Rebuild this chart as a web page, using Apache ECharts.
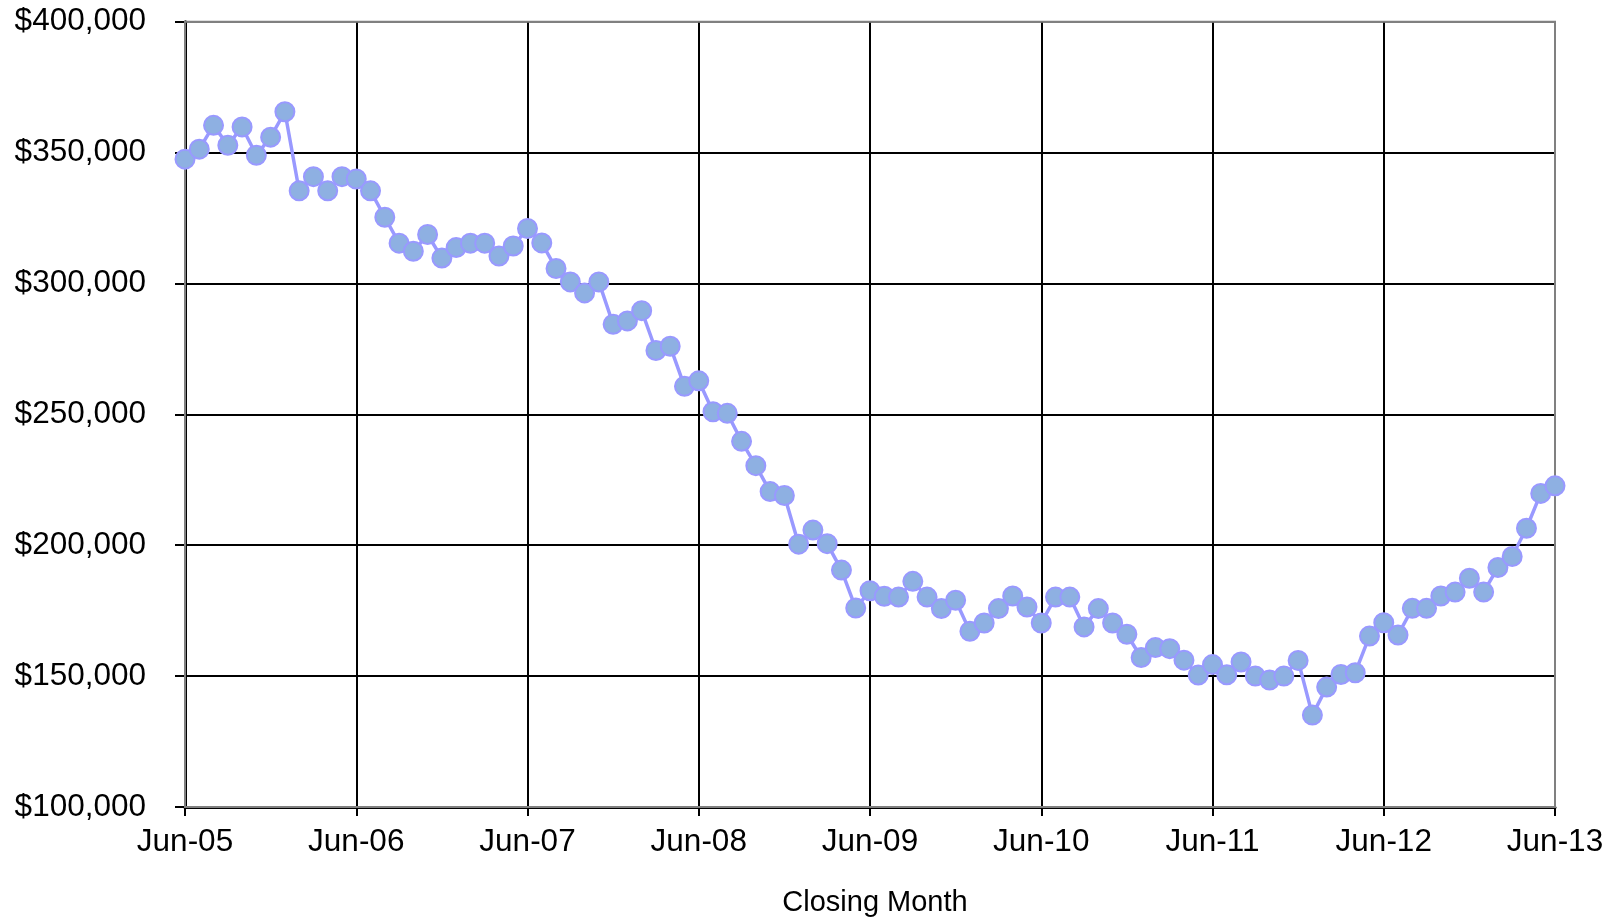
<!DOCTYPE html>
<html>
<head>
<meta charset="utf-8">
<script src="https://cdn.jsdelivr.net/npm/echarts@6/dist/echarts.min.js"></script>
<style>
html,body{margin:0;padding:0;background:#fff;}
#chart{width:1620px;height:922px;}
</style>
</head>
<body>
<div id="chart"></div>
<script>
const months = [
 'Jun-05','Jul-05','Aug-05','Sep-05','Oct-05','Nov-05','Dec-05','Jan-06','Feb-06','Mar-06','Apr-06','May-06',
 'Jun-06','Jul-06','Aug-06','Sep-06','Oct-06','Nov-06','Dec-06','Jan-07','Feb-07','Mar-07','Apr-07','May-07',
 'Jun-07','Jul-07','Aug-07','Sep-07','Oct-07','Nov-07','Dec-07','Jan-08','Feb-08','Mar-08','Apr-08','May-08',
 'Jun-08','Jul-08','Aug-08','Sep-08','Oct-08','Nov-08','Dec-08','Jan-09','Feb-09','Mar-09','Apr-09','May-09',
 'Jun-09','Jul-09','Aug-09','Sep-09','Oct-09','Nov-09','Dec-09','Jan-10','Feb-10','Mar-10','Apr-10','May-10',
 'Jun-10','Jul-10','Aug-10','Sep-10','Oct-10','Nov-10','Dec-10','Jan-11','Feb-11','Mar-11','Apr-11','May-11',
 'Jun-11','Jul-11','Aug-11','Sep-11','Oct-11','Nov-11','Dec-11','Jan-12','Feb-12','Mar-12','Apr-12','May-12',
 'Jun-12','Jul-12','Aug-12','Sep-12','Oct-12','Nov-12','Dec-12','Jan-13','Feb-13','Mar-13','Apr-13','May-13',
 'Jun-13'
];
const closingPrice = [
 347500, 351300, 360400, 352800, 359800, 349000, 355900, 365600, 335400, 340800, 335400, 340800,
 339900, 335400, 325300, 315400, 312300, 318700, 309700, 313700, 315400, 315400, 310500, 314300,
 321000, 315500, 305700, 300600, 296400, 300600, 284400, 285700, 289600, 274400, 276000, 260700,
 262800, 251000, 250400, 239700, 230400, 220500, 219000, 200400, 205800, 200600, 190500, 176000,
 182600, 180500, 180200, 186200, 180200, 175800, 179000, 167100, 170300, 175800, 180600, 176400,
 170300, 180200, 180200, 168800, 175800, 170300, 166000, 157100, 160900, 160500, 156100, 150400,
 154400, 150500, 155400, 150000, 148500, 150000, 156000, 135100, 145800, 150600, 151300, 165300,
 170400, 165700, 175900, 175900, 180600, 182100, 187400, 182100, 191500, 195700, 206500, 219800,
 222700
];
const yMin = 100000, yMax = 400000, yStep = 50000;
const xAxisTitle = 'Closing Month';

function money(v){
  return '$' + String(v).replace(/\B(?=(\d{3})+(?!\d))/g, ',');
}

const chart = echarts.init(document.getElementById('chart'), null, {renderer:'canvas'});
const font = '"Liberation Sans", Arial, sans-serif';
chart.setOption({
  animation:false,
  backgroundColor:'#ffffff',
  grid:{left:185, right:65, top:21.7, bottom:113.7, containLabel:false,
        show:true, borderColor:'#808080', borderWidth:2, backgroundColor:'transparent', z:1},
  xAxis:{
    type:'category',
    data:months,
    boundaryGap:false,
    name:xAxisTitle,
    nameLocation:'middle',
    nameGap:81,
    nameTextStyle:{fontFamily:font, fontSize:29, color:'#000', verticalAlign:'top', padding:[0,0,0,10]},
    axisLine:{show:true, lineStyle:{color:'#000', width:3}},
    axisTick:{show:true, inside:false, length:9, interval:11, lineStyle:{color:'#000', width:2}},
    axisLabel:{interval:11, margin:19, fontFamily:font, fontSize:31.5, color:'#000'},
    splitLine:{show:true, interval:11, lineStyle:{color:['#000','#000','#000','#000','#000','#000','#000','#000','#808080'], width:2}}
  },
  yAxis:{
    type:'value',
    min:yMin, max:yMax, interval:yStep,
    axisLine:{show:true, lineStyle:{color:'#000', width:3}},
    axisTick:{show:true, inside:false, length:10, lineStyle:{color:'#000', width:2}},
    axisLabel:{margin:39, fontFamily:font, fontSize:31.5, color:'#000', formatter:money},
    splitLine:{show:true, lineStyle:{color:['#000','#000','#000','#000','#000','#000','#808080'], width:2}}
  },
  series:[{
    type:'line',
    data:closingPrice,
    symbol:'circle',
    symbolSize:19,
    showSymbol:true,
    showAllSymbol:true,
    z:5,
    lineStyle:{color:'#9999FF', width:3.5},
    itemStyle:{color:'#8EB0E2', borderColor:'#9999FF', borderWidth:2}
  }]
});
</script>
</body>
</html>
